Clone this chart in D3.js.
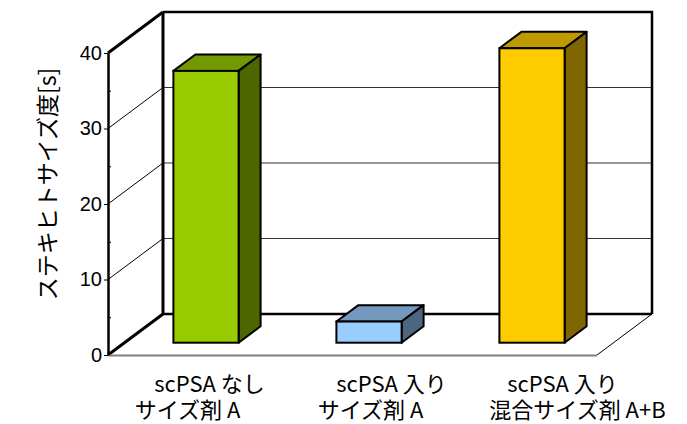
<!DOCTYPE html>
<html>
<head>
<meta charset="utf-8">
<script src="https://cdn.jsdelivr.net/npm/d3@7"></script>
<style>
  html, body { margin: 0; padding: 0; background: #fff; }
  svg { display: block; }
</style>
</head>
<body>
<svg id="chart" width="687" height="424"></svg>
<script>
// Categories (two-line labels) and values
const categories = ["noPSA", "withPSA", "mixed"];
const labelLine1 = ["scPSA なし", "scPSA 入り", "scPSA 入り"];
const labelLine2 = ["サイズ剤 A", "サイズ剤 A", "混合サイズ剤 A+B"];
const values = [36, 2.8, 39];
const frontColors = ["#99cc00", "#99ccff", "#ffcc00"];
const topColors = ["#739900", "#7399bf", "#bf9900"];
const sideColors = ["#4d6600", "#4d6680", "#806600"];
const majorTicks = [0, 10, 20, 30, 40];
const minorTicks = [5, 15, 25, 35];
const yTitle = "ステキヒトサイズ度[s]";

const svg = d3.select("#chart");

// Plot frame (front plane) and depth projection
const plotLeft = 108, plotRight = 597, plotBottom = 355, plotTop = 53;
const depthX = 55, depthY = -41;

const x = d3.scaleBand().domain(categories).range([plotLeft, plotRight]).padding(0);
const y = d3.scaleLinear().domain([0, 40]).range([plotBottom, plotTop]);

const fontJP = "'Noto Sans CJK JP', 'Noto Sans', sans-serif";
const fontNum = "'Liberation Sans', Arial, sans-serif";

const yMax = y(40), y0 = y(0);
const L = plotLeft, R = plotRight;

// Gridlines: diagonal across the side wall, then across the back wall
const grid = svg.append("g");
[10, 20, 30].forEach(t => {
  grid.append("path")
    .attr("d", `M${L},${y(t)}L${L + depthX},${y(t) + depthY}`)
    .attr("stroke", "#000").attr("stroke-width", 1).attr("fill", "none");
  grid.append("path")
    .attr("d", `M${L + depthX},${y(t) + depthY}H${R + depthX}`)
    .attr("stroke", "#333").attr("stroke-width", 1).attr("fill", "none");
});

// Wall and floor edges
const edges = svg.append("g").attr("fill", "none").attr("stroke", "#000");
edges.append("path") // back-left vertical
  .attr("d", `M${L + depthX},${yMax + depthY}V${y0 + depthY}`)
  .attr("stroke-width", 3);
edges.append("path") // top edge and right edge of back wall
  .attr("d", `M${L + depthX},${yMax + depthY}H${R + depthX}V${y0 + depthY}`)
  .attr("stroke-width", 2.5);
edges.append("path") // back floor edge
  .attr("d", `M${L + depthX},${y0 + depthY}H${R + depthX}`)
  .attr("stroke-width", 2.5);
edges.append("path") // top-left diagonal
  .attr("d", `M${L},${yMax}L${L + depthX},${yMax + depthY}`)
  .attr("stroke-width", 3);
edges.append("path") // left floor diagonal
  .attr("d", `M${L},${y0}L${L + depthX},${y0 + depthY}`)
  .attr("stroke-width", 3);
edges.append("path") // right floor diagonal
  .attr("d", `M${R},${y0}L${R + depthX},${y0 + depthY}`)
  .attr("stroke-width", 1);

// Front floor edge
svg.append("path")
  .attr("d", `M${L},${y0 + 0.5}H${R}`)
  .attr("stroke", "#808080").attr("stroke-width", 2).attr("fill", "none");

// Bars (3D boxes placed in the middle of the depth)
const gapFrac = 0.3, barDepthFrac = 0.4, barWidthFrac = 0.4;
const offX = depthX * gapFrac, offY = depthY * gapFrac;
const bdx = depthX * barDepthFrac, bdy = depthY * barDepthFrac;
const bw = x.bandwidth() * barWidthFrac;

const bars = svg.append("g").selectAll("g").data(categories).join("g");
bars.each(function (c, i) {
  const g = d3.select(this);
  const cx = x(c) + x.bandwidth() / 2 + offX;
  const x0 = cx - bw / 2, x1 = cx + bw / 2;
  const yb = y(0) + offY, yt = y(values[i]) + offY;
  // top face
  g.append("polygon")
    .attr("points", [[x0, yt], [x1, yt], [x1 + bdx, yt + bdy], [x0 + bdx, yt + bdy]].join(" "))
    .attr("fill", topColors[i]).attr("stroke", "#000").attr("stroke-width", 2).attr("stroke-linejoin", "round");
  // side face
  g.append("polygon")
    .attr("points", [[x1, yt], [x1 + bdx, yt + bdy], [x1 + bdx, yb + bdy], [x1, yb]].join(" "))
    .attr("fill", sideColors[i]).attr("stroke", "#000").attr("stroke-width", 2).attr("stroke-linejoin", "round");
  // front face
  g.append("rect")
    .attr("x", x0).attr("y", yt).attr("width", bw).attr("height", yb - yt)
    .attr("fill", frontColors[i]).attr("stroke", "#000").attr("stroke-width", 2);
});

// Y axis on the front-left edge
const axis = svg.append("g").attr("transform", `translate(${L},0)`)
  .call(d3.axisLeft(y).tickValues(majorTicks).tickSize(4).tickSizeOuter(0).tickPadding(2));
axis.select(".domain").attr("stroke", "#000").attr("stroke-width", 2.5);
axis.selectAll(".tick line").attr("stroke", "#000").attr("stroke-width", 1);
axis.selectAll(".tick text")
  .attr("font-family", fontNum).attr("font-size", 20).attr("fill", "#000");
const minor = svg.append("g").attr("transform", `translate(${L},0)`)
  .call(d3.axisRight(y).tickValues(minorTicks).tickSize(3).tickFormat(""));
minor.select(".domain").remove();
minor.selectAll(".tick line").attr("stroke", "#000");

// Y title
svg.append("text")
  .attr("transform", `translate(56,${(plotTop + plotBottom) / 2 - 20}) rotate(-90)`)
  .attr("text-anchor", "middle")
  .attr("font-family", fontJP).attr("font-size", 23).attr("fill", "#000")
  .text(yTitle);

// Category labels: one two-line text per category
const line1Nudge = [20, 39, 47];
const line2Nudge = [-2, 18, 62];
const labels = svg.append("g").attr("font-family", fontJP).attr("font-size", 22).attr("fill", "#000").attr("text-anchor", "middle");
categories.forEach((c, i) => {
  const cx = x(c) + x.bandwidth() / 2;
  const t = labels.append("text");
  t.append("tspan").attr("x", cx + line1Nudge[i]).attr("y", 392).text(labelLine1[i]);
  t.append("tspan").attr("x", cx + line2Nudge[i]).attr("y", 418).text(labelLine2[i]);
});
</script>
</body>
</html>
